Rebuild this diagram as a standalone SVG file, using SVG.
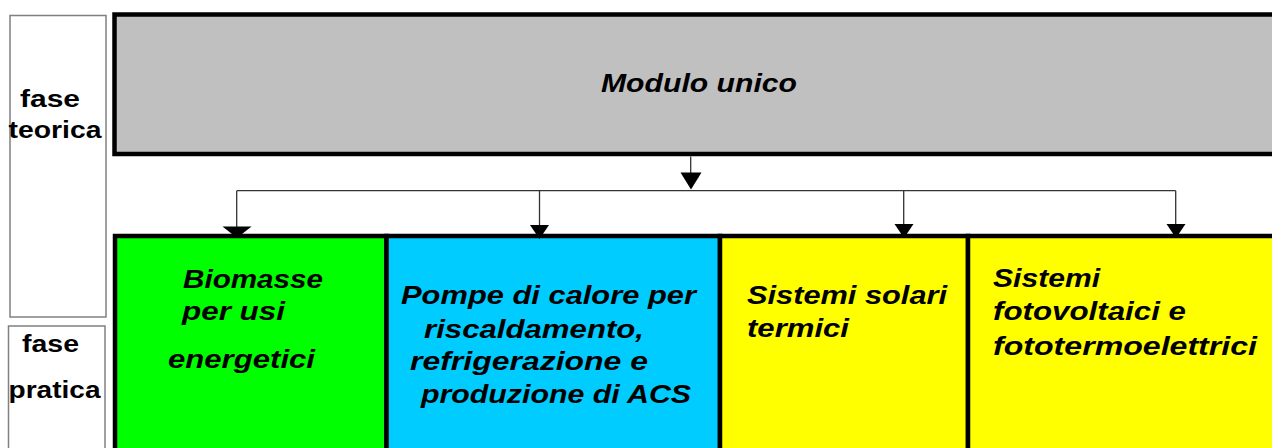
<svg xmlns="http://www.w3.org/2000/svg" width="1272" height="448" viewBox="0 0 1272 448">
<style>
.lbl{font-family:"Liberation Sans",Arial,sans-serif;font-weight:bold;font-size:23px;fill:#000}
.txt{font-family:"Liberation Sans",Arial,sans-serif;font-weight:bold;font-style:italic;font-size:25px;fill:#000}
.side{fill:#fff;stroke:#808080;stroke-width:1.5}
.box{stroke:#000;stroke-width:4.5}
.conn{stroke:#333;stroke-width:1.3;fill:none}
.head{fill:#000}
</style>
<rect width="1272" height="448" fill="#fff"/>
<g id="fase-teorica">
<rect class="side" x="10" y="15.5" width="96" height="301.5"/>
<text class="lbl" x="20" y="107" textLength="60" lengthAdjust="spacingAndGlyphs">fase</text>
<text class="lbl" x="8.5" y="137.5" textLength="93" lengthAdjust="spacingAndGlyphs">teorica</text>
</g>
<g id="fase-pratica">
<rect class="side" x="8.5" y="326" width="96.5" height="140"/>
<text class="lbl" x="22" y="352" textLength="57" lengthAdjust="spacingAndGlyphs">fase</text>
<text class="lbl" x="8.5" y="398" textLength="92" lengthAdjust="spacingAndGlyphs">pratica</text>
</g>
<g id="modulo-unico">
<rect class="box" x="114.5" y="14.5" width="1180" height="139.5" fill="#c0c0c0"/>
<text class="txt" x="601" y="92" textLength="196" lengthAdjust="spacingAndGlyphs">Modulo unico</text>
</g>
<g id="biomasse">
<rect class="box" x="115" y="236" width="271.5" height="240" fill="#00ff00"/>
<text class="txt" x="183" y="288" textLength="140" lengthAdjust="spacingAndGlyphs">Biomasse</text>
<text class="txt" x="182" y="320" textLength="103" lengthAdjust="spacingAndGlyphs">per usi</text>
<text class="txt" x="168" y="368" textLength="147" lengthAdjust="spacingAndGlyphs">energetici</text>
</g>
<g id="pompe">
<rect class="box" x="386.5" y="236" width="333.5" height="240" fill="#00ccff"/>
<text class="txt" x="401" y="304" textLength="295" lengthAdjust="spacingAndGlyphs">Pompe di calore per</text>
<text class="txt" x="424" y="338" textLength="220" lengthAdjust="spacingAndGlyphs">riscaldamento,</text>
<text class="txt" x="410" y="370" textLength="238" lengthAdjust="spacingAndGlyphs">refrigerazione e</text>
<text class="txt" x="421" y="403" textLength="270" lengthAdjust="spacingAndGlyphs">produzione di ACS</text>
</g>
<g id="solari">
<rect class="box" x="720" y="236" width="248" height="240" fill="#ffff00"/>
<text class="txt" x="747" y="304" textLength="200" lengthAdjust="spacingAndGlyphs">Sistemi solari</text>
<text class="txt" x="747" y="337" textLength="102" lengthAdjust="spacingAndGlyphs">termici</text>
</g>
<g id="fotovoltaici">
<rect class="box" x="968" y="236" width="330" height="240" fill="#ffff00"/>
<text class="txt" x="993" y="287" textLength="107" lengthAdjust="spacingAndGlyphs">Sistemi</text>
<text class="txt" x="993" y="320" textLength="193" lengthAdjust="spacingAndGlyphs">fotovoltaici e</text>
<text class="txt" x="993" y="355" textLength="264" lengthAdjust="spacingAndGlyphs">fototermoelettrici</text>
</g>
<g id="connectors">
<path class="conn" d="M690.7 156.5V176"/>
<polygon class="head" points="680.5,172.5 701.5,172.5 691,189.5"/>
<path class="conn" d="M236.7 190.7H1175.7"/>
<path class="conn" d="M236.7 190.7V228"/>
<path class="conn" d="M539.5 190.7V226"/>
<path class="conn" d="M903.7 190.7V226"/>
<path class="conn" d="M1175.7 190.7V226"/>
<polygon class="head" points="222.5,226.5 251.5,226.5 237,238"/>
<polygon class="head" points="530,225 549,225 539.5,239"/>
<polygon class="head" points="894.5,224 913.5,224 904,238"/>
<polygon class="head" points="1166.5,224 1185.5,224 1176,238"/>
</g>
</svg>
